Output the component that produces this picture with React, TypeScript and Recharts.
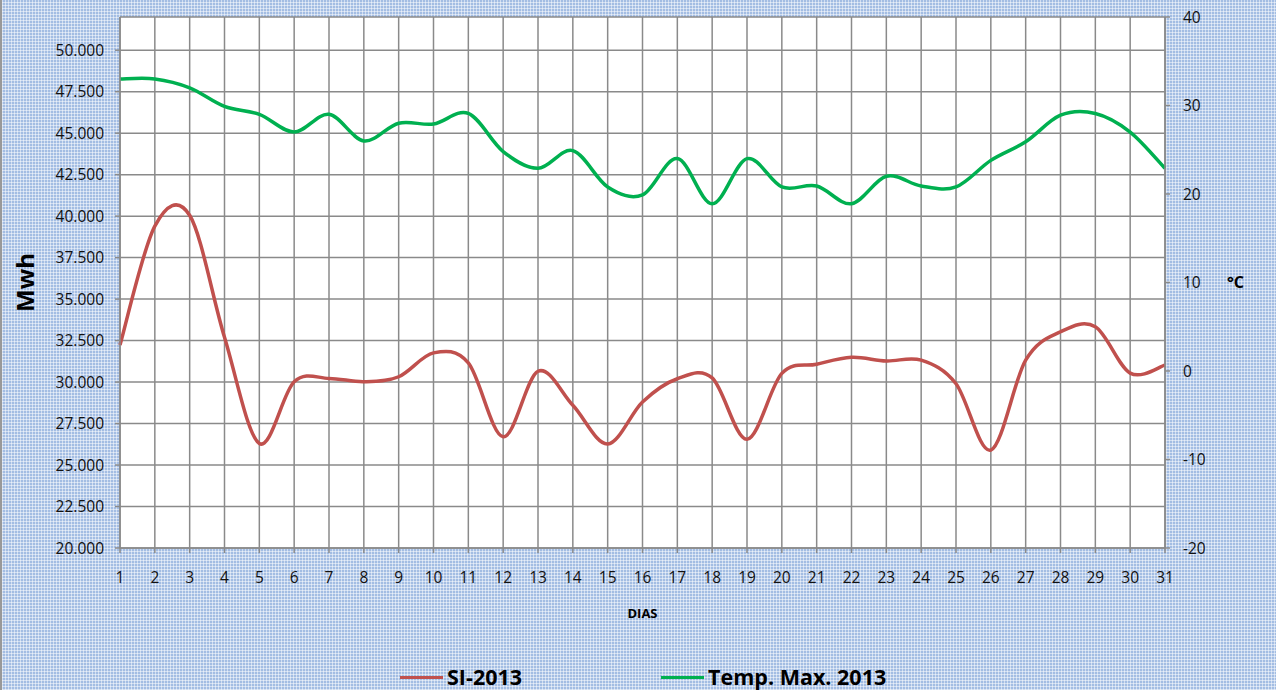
import { LineChart, Line, XAxis, YAxis, CartesianGrid, Legend } from 'recharts';

const DAYS = [1, 2, 3, 4, 5, 6, 7, 8, 9, 10, 11, 12, 13, 14, 15, 16, 17, 18, 19, 20, 21, 22, 23, 24, 25, 26, 27, 28, 29, 30, 31];

// Mwh
const SI_2013 = [
    32230, 39400, 40050, 32700, 26300, 30020, 30220, 30020, 30320, 31760,
    31150, 26700, 30650, 28600, 26270, 28800, 30200, 30250, 26550, 30520,
    31070, 31490, 31270, 31320, 29900, 25900, 31320, 33030, 33330, 30540, 31020
];

// °C
const TEMP_MAX_2013 = [
    33.0, 33.0, 32.0, 29.9, 29.0, 27.0, 29.0, 26.0, 28.0, 27.9,
    29.1, 24.8, 22.9, 24.9, 20.8, 19.9, 24.0, 18.9, 24.0, 20.8,
    20.9, 18.9, 22.0, 20.9, 20.8, 23.8, 25.9, 28.9, 29.1, 27.0, 22.9
];

const LEFT_TICKS = [20000, 22500, 25000, 27500, 30000, 32500, 35000, 37500, 40000, 42500, 45000, 47500, 50000];
const RIGHT_TICKS = [-20, -10, 0, 10, 20, 30, 40];

const RED = '#c0504d';
const GREEN = '#00b050';
const GRID = '#8a8a8a';
const FONT = '"Open Sans", sans-serif';

const data = DAYS.map((d, i) => ({ day: d, si: SI_2013[i], temp: TEMP_MAX_2013[i] }));

// excel style smoothed line (catmull-rom through the points)
function excelCurve(context: any) {
    let pts: number[][] = [];
    return {
        areaStart() {},
        areaEnd() {},
        lineStart() { pts = []; },
        point(x: number, y: number) { pts.push([+x, +y]); },
        lineEnd() {
            if (!pts.length) return;
            context.moveTo(pts[0][0], pts[0][1]);
            for (let i = 0; i < pts.length - 1; i++) {
                const p0 = pts[i - 1] || pts[i];
                const p1 = pts[i];
                const p2 = pts[i + 1];
                const p3 = pts[i + 2] || p2;
                context.bezierCurveTo(
                    p1[0] + (p2[0] - p0[0]) / 6, p1[1] + (p2[1] - p0[1]) / 6,
                    p2[0] - (p3[0] - p1[0]) / 6, p2[1] - (p3[1] - p1[1]) / 6,
                    p2[0], p2[1]
                );
            }
        }
    };
}

function fmtThousands(v: number) {
    const k = Math.floor(v / 1000);
    const r = String(v % 1000).padStart(3, '0');
    return `${k}.${r}`;
}

function ChartLegend() {
    const items = [
        { name: 'SI-2013', color: RED },
        { name: 'Temp. Max. 2013', color: GREEN }
    ];
    return (
        <div style={{ display: 'flex', alignItems: 'center', fontFamily: FONT }}>
            {items.map((it, i) => (
                <div key={it.name} style={{ display: 'flex', alignItems: 'center', marginRight: i === 0 ? 139 : 0 }}>
                    <div style={{ width: 43, height: 3, background: it.color }} />
                    <span style={{ marginLeft: 4, fontSize: 21.5, fontWeight: 700, color: '#000', lineHeight: '30px' }}>{it.name}</span>
                </div>
            ))}
        </div>
    );
}

const tickStyle = { fill: '#111', fontSize: 15.5, fontFamily: FONT };

export default function App() {
    return (
        <div
            style={{
                position: 'absolute',
                left: 0,
                top: 0,
                width: 1276,
                height: 690,
                boxSizing: 'border-box',
                borderLeft: '2px solid #999',
                backgroundColor: '#a3bde3',
                backgroundImage:
                    'repeating-linear-gradient(0deg, rgba(255,255,255,0.5) 0px, rgba(255,255,255,0.5) 1px, transparent 1px, transparent 3px),' +
                    'repeating-linear-gradient(90deg, rgba(255,255,255,0.5) 0px, rgba(255,255,255,0.5) 1px, transparent 1px, transparent 3px)'
            }}
        >
            <div style={{ position: 'absolute', left: -2, top: 0 }}>
                <LineChart width={1276} height={690} data={data} margin={{ top: 17, right: 0, bottom: 0, left: 0 }}>
                    <CartesianGrid yAxisId="left" stroke={GRID} strokeWidth={1.5} fill="#ffffff" fillOpacity={1} />
                    <XAxis
                        dataKey="day"
                        height={142}
                        tick={tickStyle}
                        tickLine={{ stroke: GRID, strokeWidth: 1.5 }}
                        axisLine={{ stroke: GRID, strokeWidth: 1.5 }}
                        tickSize={5}
                        tickMargin={19}
                        interval={0}
                        label={{ value: 'DIAS', position: 'insideTop', offset: 61, style: { fontSize: 13, fontWeight: 700, fill: '#000', fontFamily: FONT } }}
                    />
                    <YAxis
                        yAxisId="left"
                        width={120}
                        domain={[20000, 52000]}
                        ticks={LEFT_TICKS}
                        allowDataOverflow
                        tickFormatter={fmtThousands}
                        tick={tickStyle}
                        tickLine={{ stroke: GRID, strokeWidth: 1.5 }}
                        axisLine={{ stroke: GRID, strokeWidth: 1.5 }}
                        tickSize={5}
                        tickMargin={11}
                        label={{ value: 'Mwh', angle: -90, position: 'center', dx: -35, style: { fontSize: 24, fontWeight: 700, fill: '#000', fontFamily: FONT } }}
                    />
                    <YAxis
                        yAxisId="right"
                        orientation="right"
                        width={111}
                        domain={[-20, 40]}
                        ticks={RIGHT_TICKS}
                        allowDataOverflow
                        tick={{ ...tickStyle, textAnchor: 'start' }}
                        tickLine={{ stroke: GRID, strokeWidth: 1.5 }}
                        axisLine={{ stroke: GRID, strokeWidth: 1.5 }}
                        tickSize={5}
                        tickMargin={13}
                        label={{ value: '°C', position: 'center', dx: 15, style: { fontSize: 16, fontWeight: 700, fill: '#000', fontFamily: FONT } }}
                    />
                    <Legend
                        verticalAlign="middle"
                        align="center"
                        content={<ChartLegend />}
                        wrapperStyle={{ top: 662, left: 400, width: 700 }}
                    />
                    <Line
                        yAxisId="left"
                        dataKey="si"
                        name="SI-2013"
                        type={excelCurve as any}
                        stroke={RED}
                        strokeWidth={3.5}
                        dot={false}
                        isAnimationActive={false}
                    />
                    <Line
                        yAxisId="right"
                        dataKey="temp"
                        name="Temp. Max. 2013"
                        type={excelCurve as any}
                        stroke={GREEN}
                        strokeWidth={3.5}
                        dot={false}
                        isAnimationActive={false}
                    />
                </LineChart>
            </div>
        </div>
    );
}
